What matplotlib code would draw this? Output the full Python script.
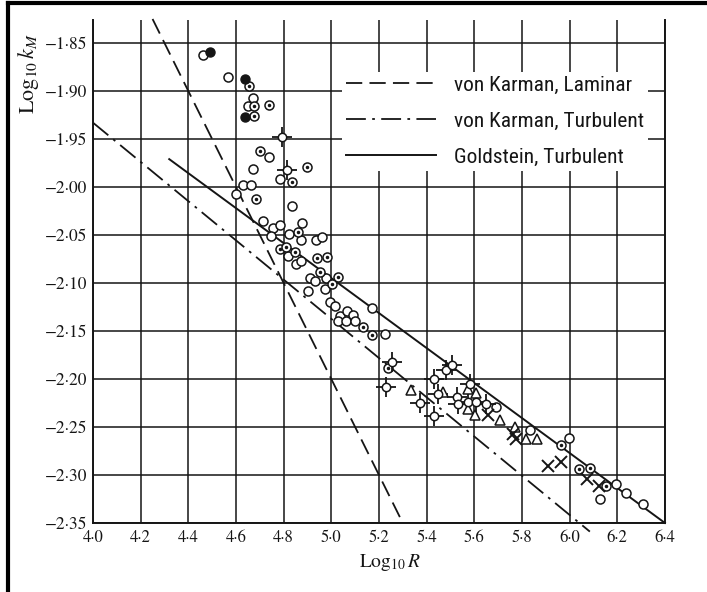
import matplotlib.pyplot as plt
from matplotlib.lines import Line2D

plt.rcParams['font.family'] = 'STIXGeneral'
plt.rcParams['mathtext.fontset'] = 'stix'

# measured points, log10 R against log10 kM
filled_x = [4.491, 4.637, 4.637]
filled_y = [-1.859, -1.887, -1.927]

open_x = [4.462, 4.567, 4.672, 4.651, 4.739, 4.672, 4.784, 4.630, 4.662, 4.600,
          4.836, 4.712, 4.756, 4.784, 4.879, 4.746, 4.823, 4.872, 4.935, 4.963,
          4.820, 4.853, 4.872, 4.910, 4.931, 4.977, 4.903, 4.975, 4.994, 5.015,
          5.169, 5.036, 5.068, 5.091, 5.029, 5.063, 5.099, 5.224,
          5.693, 5.835, 5.997, 6.196, 6.235, 6.129, 6.307]
open_y = [-1.863, -1.885, -1.907, -1.916, -1.969, -1.981, -1.992, -1.998, -1.998, -2.007,
          -2.020, -2.035, -2.043, -2.040, -2.037, -2.051, -2.049, -2.055, -2.055, -2.052,
          -2.072, -2.080, -2.077, -2.095, -2.098, -2.095, -2.108, -2.106, -2.120, -2.124,
          -2.126, -2.134, -2.129, -2.133, -2.140, -2.140, -2.140, -2.153,
          -2.229, -2.253, -2.262, -2.309, -2.319, -2.325, -2.330]

dot_x = [4.655, 4.675, 4.739, 4.675, 4.700, 4.896, 4.837, 4.683, 4.861, 4.784,
         4.809, 4.847, 4.941, 4.983, 4.952, 5.001, 5.029, 5.133, 5.169, 5.238,
         5.965, 6.039, 6.087, 6.154]
dot_y = [-1.895, -1.916, -1.915, -1.926, -1.963, -1.979, -1.995, -2.013, -2.047, -2.065,
         -2.063, -2.068, -2.074, -2.073, -2.089, -2.101, -2.094, -2.146, -2.154, -2.189,
         -2.269, -2.294, -2.293, -2.311]

star_x = [4.795, 4.815, 5.256, 5.231, 5.371, 5.430, 5.430, 5.483, 5.508, 5.527,
          5.532, 5.581, 5.574, 5.609, 5.650, 5.448]
star_y = [-1.948, -1.982, -2.182, -2.208, -2.225, -2.239, -2.200, -2.191, -2.185, -2.219,
          -2.226, -2.205, -2.224, -2.224, -2.226, -2.216]

tri_x = [5.336, 5.469, 5.574, 5.602, 5.606, 5.706, 5.769, 5.818, 5.862, 5.574]
tri_y = [-2.211, -2.214, -2.231, -2.238, -2.215, -2.243, -2.250, -2.263, -2.263, -2.210]

cross_x = [5.658, 5.763, 5.776, 5.909, 5.962, 6.072, 6.123]
cross_y = [-2.238, -2.257, -2.263, -2.291, -2.287, -2.304, -2.311]

# theoretical lines (end points)
laminar_x = [4.25, 5.30]
laminar_y = [-1.825, -2.35]
karman_x = [4.0, 6.085]
karman_y = [-1.933, -2.359]
goldstein_x = [4.32, 6.40]
goldstein_y = [-1.971, -2.35]

x_ticks = [4.0, 4.2, 4.4, 4.6, 4.8, 5.0, 5.2, 5.4, 5.6, 5.8, 6.0, 6.2, 6.4]
x_tick_labels = ['4·0', '4·2', '4·4', '4·6', '4·8', '5·0', '5·2', '5·4', '5·6', '5·8',
                 '6·0', '6·2', '6·4']
y_ticks = [-1.85, -1.90, -1.95, -2.00, -2.05, -2.10, -2.15, -2.20, -2.25, -2.30, -2.35]
y_tick_labels = ['−1·85', '−1·90', '−1·95', '−2·00', '−2·05', '−2·10', '−2·15',
                 '−2·20', '−2·25', '−2·30', '−2·35']

ink = '#151515'

fig = plt.figure(figsize=(7.07, 5.92), dpi=100)
ax = fig.add_axes([0.1315, 0.1166, 0.809, 0.8497])

ax.plot(laminar_x, laminar_y, color=ink, lw=1.3, dashes=(9, 4),
        label='von Karman, Laminar', clip_on=False, zorder=3)
ax.plot(karman_x, karman_y, color=ink, lw=1.3, dashes=(11, 3.5, 1.5, 3.5),
        label='von Karman, Turbulent', clip_on=False, zorder=3)
ax.plot(goldstein_x, goldstein_y, color=ink, lw=1.4,
        label='Goldstein, Turbulent', clip_on=False, zorder=3)

ax.plot(open_x, open_y, 'o', ms=6.5, mfc='white', mec=ink, mew=1.1, zorder=4)
ax.plot(dot_x, dot_y, 'o', ms=6.5, mfc='white', mec=ink, mew=1.1, zorder=4)
ax.plot(dot_x, dot_y, '.', ms=3, color=ink, zorder=5)
ax.plot(filled_x, filled_y, 'o', ms=6.5, mfc=ink, mec=ink, zorder=4)
ax.plot(star_x, star_y, '+', ms=14, mew=1.3, color=ink, zorder=4)
ax.plot(star_x, star_y, 'o', ms=6, mfc='white', mec=ink, mew=1.1, zorder=5)
ax.plot(tri_x, tri_y, '^', ms=7, mfc='white', mec=ink, mew=1.1, zorder=4)
ax.plot(cross_x, cross_y, 'x', ms=8, mew=1.4, color=ink, zorder=4)

ax.set_xlim(4.0, 6.4)
ax.set_ylim(-2.35, -1.826)
ax.set_xticks(x_ticks)
ax.set_xticklabels(x_tick_labels)
ax.set_yticks(y_ticks)
ax.set_yticklabels(y_tick_labels)
ax.tick_params(length=0, colors=ink)
ax.tick_params(axis='x', labelsize=12, pad=5)
ax.tick_params(axis='y', labelsize=12.5, pad=4)
ax.grid(True, color=ink, lw=1.1)
ax.set_axisbelow(True)

ax.spines['top'].set_visible(False)
for side in ['left', 'right', 'bottom']:
    ax.spines[side].set_color(ink)
    ax.spines[side].set_linewidth(1.4)

ax.set_ylabel(r'$\mathrm{Log}_{10}\,k_M$', fontsize=16, color=ink)
ax.yaxis.set_label_coords(-0.09, 0.893)
ax.set_xlabel(r'$\mathrm{Log}_{10}\,R$', fontsize=14, color=ink)
ax.xaxis.set_label_coords(0.52, -0.058)

# legend in a narrow sans face; sized in pixels so the block keeps its place
legend_family = ['Roboto Condensed', 'DejaVu Sans']
row_pitch = 36


def add_legend(size, spacing=None):
    px = size * fig.dpi / 72
    if spacing is None:
        spacing = max(0.1, (row_pitch - 1.17 * px) / px)
    return ax.legend(loc='upper left', bbox_to_anchor=(0.435, 0.897),
                     prop={'family': legend_family, 'stretch': 'condensed', 'size': size},
                     frameon=True, fancybox=False,
                     handlelength=90 / px, handletextpad=18 / px,
                     labelspacing=spacing, borderpad=4 / px, borderaxespad=0)


leg_size = 17
leg = add_legend(leg_size)
fig.canvas.draw()
renderer = fig.canvas.get_renderer()
widest = max(t.get_window_extent(renderer).width for t in leg.get_texts())
if widest > 190:
    leg.remove()
    leg_size = leg_size * 190 / widest
    leg = add_legend(leg_size)
    fig.canvas.draw()

# set the gap between rows from the measured text height
text_h = max(t.get_window_extent(renderer).height for t in leg.get_texts())
leg_px = leg_size * fig.dpi / 72
leg.remove()
leg = add_legend(leg_size, spacing=max(0.1, (row_pitch - text_h) / leg_px))

leg.get_frame().set_facecolor('white')
leg.get_frame().set_edgecolor('none')
leg.get_frame().set_alpha(1)
for t in leg.get_texts():
    t.set_color(ink)

# outer frame
fig.add_artist(Line2D([8 / 707, 8 / 707], [0, 1 - 3 / 592], transform=fig.transFigure,
                      color='black', lw=3))
fig.add_artist(Line2D([8 / 707, 1], [1 - 3 / 592, 1 - 3 / 592], transform=fig.transFigure,
                      color='black', lw=3))

fig.savefig('out.png', dpi=100)
